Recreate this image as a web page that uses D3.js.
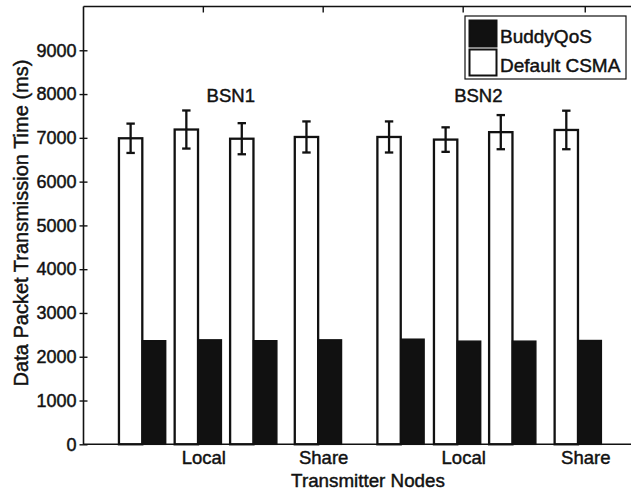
<!DOCTYPE html>
<html>
<head>
<meta charset="utf-8">
<script src="https://cdn.jsdelivr.net/npm/d3@7/dist/d3.min.js"></script>
<style>
  html, body { margin: 0; padding: 0; background: #fff; overflow: hidden; }
  text { font-family: "Liberation Sans", Arial, Helvetica, sans-serif; fill: #111; stroke: #111; stroke-width: 0.45px; }
</style>
</head>
<body>
<svg id="chart" width="631" height="489"></svg>
<script>
// Bar-pair positions along the x axis (data units)
const pairPositions = [1.05, 2.045, 3.035, 4.19, 5.665, 6.675, 7.66, 8.83];
// Default CSMA mean transmission time (ms) and error half-widths
const csmaValues = [6990, 7190, 6980, 7020, 7020, 6960, 7130, 7180];
const csmaErrors = [335, 435, 355, 355, 355, 280, 390, 440];
// BuddyQoS mean transmission time (ms)
const buddyValues = [2365, 2385, 2365, 2385, 2400, 2355, 2355, 2370];
// X tick positions and labels
const xTickPositions = [2.14, 4.28, 6.78, 8.96];
const xTickLabels = ["Local", "Share", "Local", "Share"];
// Y ticks
const yTicks = [0, 1000, 2000, 3000, 4000, 5000, 6000, 7000, 8000, 9000];
// Network annotations
const groupNames = ["BSN1", "BSN2"];
const groupLabelX = [2.63, 7.05];
const groupLabelY = [7830, 7830];
// Legend entries
const seriesNames = ["BuddyQoS", "Default CSMA"];
const seriesFills = ["#111", "#fff"];

const svg = d3.select("#chart");
const plotLeft = 83.5, plotRight = 643.5, plotTop = 6.5, plotBottom = 444.3;
const ink = "#111";

const x = d3.scaleLinear().domain([0, 10]).range([plotLeft, plotRight]);
const y = d3.scaleLinear().domain([0, 10000]).range([plotBottom, plotTop]);
const barW = 0.417; // width of one bar in x units

const g = svg.append("g");

// Default CSMA bars (white, left of each pair)
g.selectAll("rect.csma").data(pairPositions).enter().append("rect")
  .attr("class", "csma")
  .attr("x", (d) => x(d - barW))
  .attr("width", x(barW) - x(0))
  .attr("y", (d, i) => y(csmaValues[i]))
  .attr("height", (d, i) => y(0) - y(csmaValues[i]))
  .attr("fill", "#fff").attr("stroke", ink).attr("stroke-width", 2.3);

// BuddyQoS bars (black, right of each pair)
g.selectAll("rect.buddy").data(pairPositions).enter().append("rect")
  .attr("class", "buddy")
  .attr("x", (d) => x(d))
  .attr("width", x(barW) - x(0))
  .attr("y", (d, i) => y(buddyValues[i]))
  .attr("height", (d, i) => y(0) - y(buddyValues[i]))
  .attr("fill", ink).attr("stroke", ink).attr("stroke-width", 1.5);

// Error bars on the CSMA bars
const eb = g.selectAll("g.err").data(pairPositions).enter().append("g").attr("class", "err");
const capHalf = 4.2;
eb.append("line")
  .attr("x1", (d) => x(d - barW / 2)).attr("x2", (d) => x(d - barW / 2))
  .attr("y1", (d, i) => y(csmaValues[i] + csmaErrors[i]))
  .attr("y2", (d, i) => y(csmaValues[i] - csmaErrors[i]))
  .attr("stroke", ink).attr("stroke-width", 2.3);
[1, -1].forEach((s) => {
  eb.append("line")
    .attr("x1", (d) => x(d - barW / 2) - capHalf).attr("x2", (d) => x(d - barW / 2) + capHalf)
    .attr("y1", (d, i) => y(csmaValues[i] + s * csmaErrors[i]))
    .attr("y2", (d, i) => y(csmaValues[i] + s * csmaErrors[i]))
    .attr("stroke", ink).attr("stroke-width", 2.3);
});

// Axes frame: left, bottom, top
const frame = svg.append("g").attr("stroke", ink).attr("stroke-width", 1.6).attr("fill", "none");
frame.append("line").attr("x1", plotLeft).attr("x2", plotLeft).attr("y1", plotTop).attr("y2", plotBottom);
frame.append("line").attr("x1", plotLeft).attr("x2", plotRight).attr("y1", plotBottom).attr("y2", plotBottom);
frame.append("line").attr("x1", plotLeft).attr("x2", plotRight).attr("y1", plotTop).attr("y2", plotTop);

// Y axis with ticks
const yAxis = d3.axisLeft(y).tickValues(yTicks).tickSize(4).tickPadding(3).tickFormat(d3.format("d"));
const ya = svg.append("g").attr("transform", `translate(${plotLeft},0)`).call(yAxis);
ya.select(".domain").remove();
ya.selectAll(".tick line").attr("stroke", ink).attr("stroke-width", 1.4).attr("x2", -4).attr("x1", 4);
ya.selectAll(".tick text").attr("font-size", 18).attr("fill", ink)
  .style("font-family", "Liberation Sans, Arial, sans-serif");

// Top ticks (mirrored x ticks)
svg.append("g").selectAll("line").data(xTickPositions).enter().append("line")
  .attr("x1", (d) => x(d)).attr("x2", (d) => x(d))
  .attr("y1", plotTop).attr("y2", plotTop + 6)
  .attr("stroke", ink).attr("stroke-width", 1.4);

// X axis labels
const xAxis = d3.axisBottom(x).tickValues(xTickPositions).tickSize(0).tickPadding(7)
  .tickFormat((d, i) => xTickLabels[i]);
const xa = svg.append("g").attr("transform", `translate(0,${plotBottom})`).call(xAxis);
xa.select(".domain").remove();
xa.selectAll(".tick text").attr("font-size", 18.5).attr("fill", ink)
  .style("font-family", "Liberation Sans, Arial, sans-serif");

// Axis titles
svg.append("text").attr("x", 368).attr("y", 486.5).attr("text-anchor", "middle")
  .attr("font-size", 18.8).text("Transmitter Nodes");
svg.append("text").attr("transform", "translate(28,223) rotate(-90)").attr("text-anchor", "middle")
  .attr("font-size", 20).text("Data Packet Transmission Time (ms)");

// Network annotations
svg.append("g").selectAll("text").data(groupNames).enter().append("text")
  .attr("x", (d, i) => x(groupLabelX[i])).attr("y", (d, i) => y(groupLabelY[i]))
  .attr("text-anchor", "middle").attr("font-size", 18.5).text((d) => d);

// Legend
const lg = svg.append("g");
lg.append("rect").attr("x", 465).attr("y", 16).attr("width", 161).attr("height", 63)
  .attr("fill", "#fff").attr("stroke", ink).attr("stroke-width", 1.2);
seriesNames.forEach((name, i) => {
  lg.append("rect").attr("x", 469.5).attr("y", 20.5 + i * 29).attr("width", 27).attr("height", 26)
    .attr("fill", seriesFills[i]).attr("stroke", ink).attr("stroke-width", 2);
  lg.append("text").attr("x", 500).attr("y", 42.5 + i * 29).attr("font-size", 19).text(name);
});
</script>
</body>
</html>
